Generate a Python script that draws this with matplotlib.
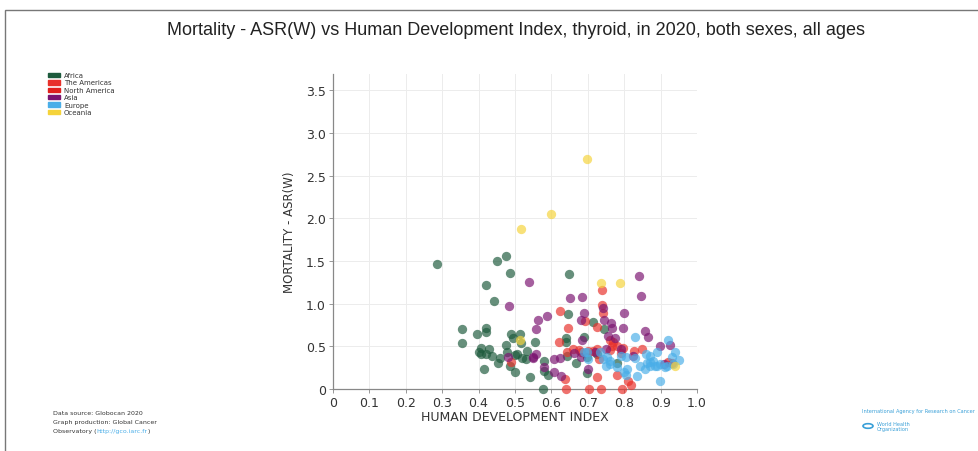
import numpy as np
import matplotlib.pyplot as plt
from matplotlib.patches import Rectangle, Circle

# hdi / mortality asr(w) per region
africa_x = [0.286, 0.42, 0.45, 0.475, 0.486, 0.442, 0.354, 0.354, 0.396, 0.42, 0.42, 0.407, 0.407,
            0.415, 0.42, 0.43, 0.436, 0.453, 0.475, 0.489, 0.514, 0.494, 0.516, 0.555, 0.478, 0.50,
            0.505, 0.533, 0.53, 0.486, 0.50, 0.541, 0.58, 0.58, 0.59, 0.577, 0.519, 0.648, 0.646,
            0.64, 0.64, 0.69, 0.715, 0.745, 0.667, 0.697, 0.78, 0.725, 0.697, 0.643, 0.40, 0.46]
africa_y = [1.46, 1.22, 1.50, 1.56, 1.36, 1.03, 0.70, 0.54, 0.64, 0.72, 0.67, 0.48, 0.41,
            0.23, 0.41, 0.47, 0.39, 0.30, 0.52, 0.64, 0.64, 0.60, 0.54, 0.55, 0.43, 0.40,
            0.41, 0.45, 0.35, 0.27, 0.20, 0.14, 0.33, 0.21, 0.17, 0.0, 0.36, 1.35, 0.88,
            0.60, 0.55, 0.61, 0.78, 0.70, 0.30, 0.19, 0.31, 0.41, 0.37, 0.39, 0.44, 0.36]

americas_x = [0.74, 0.624, 0.645, 0.742, 0.74, 0.692, 0.725, 0.676, 0.725, 0.766, 0.78, 0.797,
              0.827, 0.85, 0.725, 0.78, 0.81, 0.82, 0.64, 0.703, 0.736, 0.795, 0.49, 0.643, 0.66,
              0.68, 0.715, 0.76, 0.73, 0.637, 0.76, 0.79, 0.77, 0.70, 0.62]
americas_y = [1.16, 0.91, 0.71, 0.89, 0.98, 0.80, 0.73, 0.46, 0.47, 0.51, 0.50, 0.48,
              0.45, 0.47, 0.14, 0.17, 0.09, 0.05, 0.0, 0.0, 0.0, 0.0, 0.32, 0.43, 0.47,
              0.43, 0.45, 0.58, 0.35, 0.12, 0.46, 0.42, 0.55, 0.45, 0.55]

north_america_x = [0.92, 0.93]
north_america_y = [0.32, 0.30]

asia_x = [0.538, 0.84, 0.846, 0.65, 0.684, 0.484, 0.564, 0.587, 0.558, 0.69, 0.68, 0.742, 0.745,
          0.80, 0.797, 0.764, 0.766, 0.755, 0.775, 0.857, 0.866, 0.684, 0.55, 0.607, 0.624,
          0.58, 0.607, 0.626, 0.662, 0.68, 0.70, 0.824, 0.898, 0.925, 0.48, 0.79, 0.72, 0.75,
          0.91, 0.558, 0.55]
asia_y = [1.25, 1.32, 1.09, 1.07, 1.08, 0.97, 0.81, 0.86, 0.70, 0.89, 0.81, 0.95, 0.81,
          0.89, 0.71, 0.77, 0.72, 0.62, 0.60, 0.68, 0.61, 0.57, 0.37, 0.35, 0.36,
          0.26, 0.20, 0.15, 0.42, 0.37, 0.23, 0.39, 0.50, 0.52, 0.38, 0.47, 0.43, 0.47,
          0.29, 0.41, 0.36]

europe_x = [0.83, 0.92, 0.94, 0.95, 0.898, 0.697, 0.75, 0.76, 0.805, 0.805, 0.843, 0.857, 0.87,
            0.885, 0.898, 0.912, 0.83, 0.86, 0.93, 0.78, 0.80, 0.752, 0.79, 0.807, 0.742, 0.733,
            0.70, 0.76, 0.835, 0.87, 0.89, 0.87, 0.89, 0.862, 0.88, 0.934, 0.917, 0.69]
europe_y = [0.61, 0.58, 0.43, 0.34, 0.09, 0.43, 0.27, 0.29, 0.37, 0.16, 0.27, 0.23, 0.27,
            0.27, 0.29, 0.26, 0.36, 0.41, 0.37, 0.26, 0.20, 0.37, 0.39, 0.23, 0.35, 0.43,
            0.35, 0.33, 0.15, 0.32, 0.43, 0.39, 0.27, 0.31, 0.33, 0.29, 0.27, 0.43]

oceania_x = [0.698, 0.60, 0.516, 0.736, 0.788, 0.514, 0.94]
oceania_y = [2.69, 2.05, 1.88, 1.24, 1.24, 0.58, 0.27]

regions = ["Africa", "The Americas", "North America", "Asia", "Europe", "Oceania"]
colors = ["#1d5a3c", "#e8302a", "#e0201c", "#7a1370", "#4aaee8", "#f5d33a"]
xs = [africa_x, americas_x, north_america_x, asia_x, europe_x, oceania_x]
ys = [africa_y, americas_y, north_america_y, asia_y, europe_y, oceania_y]

fig = plt.figure(figsize=(9.79, 4.52), dpi=100)
ax = fig.add_axes([0.340, 0.137, 0.372, 0.697])

for px, py, c in zip(xs, ys, colors):
    ax.scatter(px, py, s=45, color=c, alpha=0.68, linewidths=0, zorder=3, clip_on=False)

ax.set_xlim(0, 1.0)
ax.set_ylim(0, 3.69)
ax.set_xticks(np.arange(0, 1.01, 0.1))
ax.set_xticklabels(["0"] + [f"{v:.1f}" for v in np.arange(0.1, 1.01, 0.1)])
ax.set_yticks(np.arange(0, 3.51, 0.5))
ax.set_yticklabels(["0"] + [f"{v:.1f}" for v in np.arange(0.5, 3.51, 0.5)])
ax.grid(True, color="#ececec", linewidth=0.7, zorder=0)
for s in ["top", "right"]:
    ax.spines[s].set_visible(False)
for s in ["left", "bottom"]:
    ax.spines[s].set_color("#888888")
    ax.spines[s].set_linewidth(0.9)
ax.tick_params(colors="#333333", labelsize=9, length=3, width=0.6, pad=2)
ax.tick_params(axis="both", color="#888888")
ax.set_xlabel("HUMAN DEVELOPMENT INDEX", fontsize=9, color="#333333", labelpad=1)
ax.set_ylabel("MORTALITY - ASR(W)", fontsize=8.5, color="#333333", labelpad=7)

fig.text(0.527, 0.933, "Mortality - ASR(W) vs Human Development Index, thyroid, in 2020, both sexes, all ages",
         ha="center", va="center", fontsize=13, color="#222222",
         family=["Liberation Sans", "DejaVu Sans"])

# legend, top left
for i, (name, c) in enumerate(zip(regions, colors)):
    yy = 1 - (76 + i * 7.4) / 452
    fig.patches.append(Rectangle((48 / 979, yy - 2.2 / 452), 12 / 979, 4.4 / 452,
                                 transform=fig.transFigure, color=c, figure=fig))
    fig.text(64 / 979, yy, name, fontsize=5, va="center", color="#333333")

# footer
fig.text(53 / 979, 1 - 414 / 452, "Data source: Globocan 2020", fontsize=4.5, va="center", color="#333333")
fig.text(53 / 979, 1 - 423 / 452, "Graph production: Global Cancer", fontsize=4.5, va="center", color="#333333")
t1 = fig.text(53 / 979, 1 - 432 / 452, "Observatory (", fontsize=4.5, va="center", color="#333333")
t2 = ax.annotate("http://gco.iarc.fr", xy=(1, 0.5), xycoords=t1, fontsize=4.5, va="center",
                 color="#4aaee8", annotation_clip=False)
ax.annotate(")", xy=(1, 0.5), xycoords=t2, fontsize=4.5, va="center", color="#333333",
            annotation_clip=False)

fig.text(862 / 979, 1 - 412 / 452, "International Agency for Research on Cancer", fontsize=3.6,
         va="center", color="#3aa0d8")
fig.patches.append(Circle((868 / 979, 1 - 427 / 452), 5 / 979, transform=fig.transFigure,
                          facecolor="none", edgecolor="#3aa0d8", linewidth=1.2, figure=fig))
fig.text(877 / 979, 1 - 424.5 / 452, "World Health", fontsize=3.6, va="center", color="#3aa0d8")
fig.text(877 / 979, 1 - 429.5 / 452, "Organization", fontsize=3.6, va="center", color="#3aa0d8")

# page frame
fig.patches.append(Rectangle((5 / 979, -0.05), 1.05, 1 - 11 / 452 + 0.05, transform=fig.transFigure,
                             facecolor="none", edgecolor="#777777", linewidth=1.0, figure=fig))

fig.savefig("out.png", dpi=100)
